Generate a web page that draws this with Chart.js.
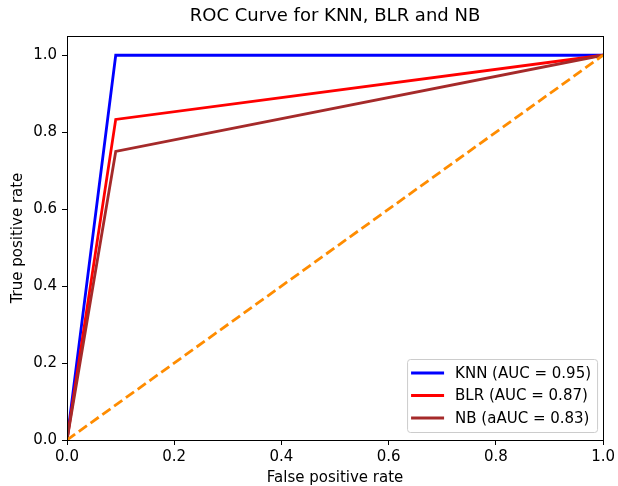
<!DOCTYPE html>
<html>
<head>
<meta charset="utf-8">
<script src="https://cdn.jsdelivr.net/npm/chart.js@4.4.0/dist/chart.umd.min.js"></script>
<style>
    html, body { margin: 0; padding: 0; background: #ffffff; }
    #wrap { width: 618px; height: 486px; }
</style>
</head>
<body>
<div id="wrap"><canvas id="chart_roc" width="618" height="486"></canvas></div>
<script>
    "use strict";

    // roc points
    var fprKnn = [0, 0.0909, 1];
    var tprKnn = [0, 1.0, 1];
    var fprBlr = [0, 0.0909, 1];
    var tprBlr = [0, 0.8333, 1];
    var fprNb = [0, 0.0909, 1];
    var tprNb = [0, 0.75, 1];
    var fprDiag = [0, 1];
    var tprDiag = [0, 1];

    var seriesLabels = ['KNN (AUC = 0.95)', 'BLR (AUC = 0.87)', 'NB (aAUC = 0.83)'];
    var xTicks = [0, 0.2, 0.4, 0.6, 0.8, 1.0];
    var xTickLabels = ['0.0', '0.2', '0.4', '0.6', '0.8', '1.0'];
    var yTicks = [0, 0.2, 0.4, 0.6, 0.8, 1.0];
    var yTickLabels = ['0.0', '0.2', '0.4', '0.6', '0.8', '1.0'];

    var FONT = "'DejaVu Sans', sans-serif";

    function toPoints(xs, ys) {
        return xs.map(function (x, i) { return { x: x, y: ys[i] }; });
    }

    function lineSet(label, xs, ys, color, order) {
        return {
            label: label,
            data: toPoints(xs, ys),
            borderColor: color,
            backgroundColor: color,
            borderWidth: 2.8,
            pointRadius: 0,
            tension: 0,
            fill: false,
            order: order
        };
    }

    // frame around the plot area, like matplotlib spines
    var framePlugin = {
        id: 'frame',
        afterDatasetsDraw: function (chart) {
            var a = chart.chartArea;
            var ctx = chart.ctx;
            ctx.save();
            ctx.strokeStyle = '#000000';
            ctx.lineWidth = 1;
            ctx.strokeRect(Math.round(a.left) + 0.5, Math.round(a.top) + 0.5,
                Math.round(a.right - a.left), Math.round(a.bottom - a.top));
            ctx.restore();
        }
    };

    // legend box in the lower right corner of the plot
    var boxLegend = {
        id: 'boxLegend',
        afterDraw: function (chart) {
            var ctx = chart.ctx;
            var a = chart.chartArea;
            var sets = chart.data.datasets.filter(function (d) { return !d.hideInLegend; });
            var w = 190, h = 73;
            var x = a.right - 6 - w, y = a.bottom - 8 - h;
            ctx.save();
            ctx.beginPath();
            ctx.roundRect(x + 0.5, y + 0.5, w, h, 3);
            ctx.fillStyle = 'rgba(255,255,255,0.8)';
            ctx.fill();
            ctx.strokeStyle = '#cccccc';
            ctx.lineWidth = 1;
            ctx.stroke();
            ctx.font = '15px ' + FONT;
            ctx.textBaseline = 'middle';
            sets.forEach(function (d, i) {
                var cy = y + 14 + i * 22.5;
                ctx.strokeStyle = d.borderColor;
                ctx.lineWidth = 2.8;
                ctx.beginPath();
                ctx.moveTo(x + 4, cy);
                ctx.lineTo(x + 37, cy);
                ctx.stroke();
                ctx.fillStyle = '#000000';
                ctx.fillText(d.label, x + 48, cy + 1);
            });
            ctx.restore();
        }
    };

    var diag = lineSet('diagonal', fprDiag, tprDiag, '#ff8c00', 0);
    diag.borderDash = [10, 4.5];
    diag.hideInLegend = true;

    var data = {
        datasets: [
            lineSet(seriesLabels[0], fprKnn, tprKnn, '#0000ff', 3),
            lineSet(seriesLabels[1], fprBlr, tprBlr, '#ff0000', 2),
            lineSet(seriesLabels[2], fprNb, tprNb, '#a52a2a', 1),
            diag
        ]
    };

    var axisCommon = {
        type: 'linear',
        border: { display: true, color: '#000000', width: 1 },
        grid: {
            drawOnChartArea: false,
            drawTicks: true,
            tickLength: 5,
            tickColor: '#000000'
        }
    };

    var options = {
        responsive: false,
        animation: false,
        layout: { padding: { left: 0, right: 14, top: 0, bottom: 0 } },
        plugins: {
            legend: { display: false },
            tooltip: { enabled: false },
            title: {
                display: true,
                fullSize: false, // center over the plot, not the canvas
                text: 'ROC Curve for KNN, BLR and NB',
                color: '#000000',
                font: { family: FONT, size: 18, weight: 'normal', lineHeight: 1.2 },
                padding: { top: 6, bottom: 8.4 }
            }
        },
        scales: {
            x: Object.assign({}, axisCommon, {
                min: 0,
                max: 1,
                afterBuildTicks: function (scale) {
                    scale.ticks = xTicks.map(function (v) { return { value: v }; });
                },
                afterFit: function (scale) { scale.height = 46; },
                ticks: {
                    color: '#000000',
                    padding: 3,
                    maxRotation: 0,
                    font: { family: FONT, size: 15 },
                    callback: function (v) { return xTickLabels[xTicks.indexOf(v)]; }
                },
                title: {
                    display: true,
                    text: 'False positive rate',
                    color: '#000000',
                    font: { family: FONT, size: 15, lineHeight: 1.0 },
                    padding: { top: 0, bottom: 0 }
                }
            }),
            y: Object.assign({}, axisCommon, {
                min: 0,
                max: 1.05,
                afterBuildTicks: function (scale) {
                    scale.ticks = yTicks.map(function (v) { return { value: v }; });
                },
                afterFit: function (scale) { scale.width = 67; },
                ticks: {
                    color: '#000000',
                    padding: 5,
                    font: { family: FONT, size: 15 },
                    callback: function (v) { return yTickLabels[yTicks.indexOf(v)]; }
                },
                title: {
                    display: true,
                    text: 'True positive rate',
                    color: '#000000',
                    font: { family: FONT, size: 15, lineHeight: 1.0 },
                    padding: { top: 10.5, bottom: 0 }
                }
            })
        }
    };

    var ctx = document.getElementById('chart_roc');
    var rocChart = new Chart(ctx, {
        type: 'line',
        data: data,
        options: options,
        plugins: [framePlugin, boxLegend]
    });
</script>
</body>
</html>
